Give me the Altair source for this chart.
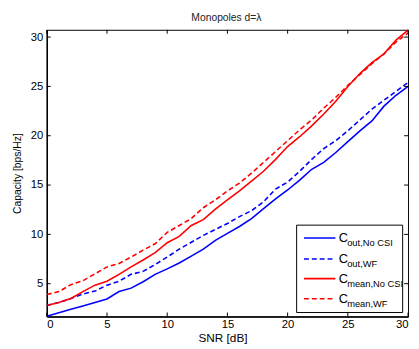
import altair as alt
import pandas as pd

snr = list(range(31))
c_out_nocsi = [1.7, 2.05, 2.4, 2.75, 3.1, 3.45, 4.2, 4.55, 5.2, 5.95, 6.5, 7.1, 7.8, 8.5, 9.4, 10.1,
               10.8, 11.6, 12.6, 13.6, 14.5, 15.5, 16.6, 17.3, 18.3, 19.4, 20.5, 21.5, 23.0, 24.1, 25.0]
c_out_wf = [2.8, 3.1, 3.5, 3.95, 4.25, 4.85, 5.25, 5.95, 6.25, 6.95, 7.7, 8.5, 9.2, 9.9, 10.5, 11.1,
            11.8, 12.4, 13.3, 14.6, 15.3, 16.4, 17.6, 18.7, 19.5, 20.5, 21.6, 22.7, 23.6, 24.5, 25.4]
c_mean_nocsi = [2.8, 3.1, 3.5, 4.2, 4.85, 5.25, 5.95, 6.7, 7.4, 8.15, 9.15, 9.8, 10.9, 11.5, 12.55, 13.5,
                14.4, 15.4, 16.4, 17.6, 18.9, 19.9, 21.0, 22.2, 23.5, 25.0, 26.3, 27.4, 28.3, 29.7, 30.7]
c_mean_wf = [3.9, 4.2, 4.9, 5.3, 6.0, 6.7, 7.05, 7.7, 8.4, 9.05, 10.2, 10.9, 11.6, 12.7, 13.5, 14.4,
             15.2, 16.2, 17.3, 18.4, 19.5, 20.6, 21.6, 22.8, 23.9, 25.1, 26.2, 27.3, 28.3, 29.5, 30.4]

series_names = ["out_nocsi", "out_wf", "mean_nocsi", "mean_wf"]
series_main = ["C", "C", "C", "C"]
series_sub = ["out,No CSI", "out,WF", "mean,No CSI", "mean,WF"]
series_colors = ["#0000FF", "#0000FF", "#FF0000", "#FF0000"]
series_dashed = [False, True, False, True]
x_ticks = [0, 5, 10, 15, 20, 25, 30]
y_ticks = [5, 10, 15, 20, 25, 30]
title_text = "Monopoles d=\u03bb"

W, H = 368, 292
FONT = "Liberation Sans"
Y_DOM = [1.68, 30.74]

rows = []
for name, vals in zip(series_names, [c_out_nocsi, c_out_wf, c_mean_nocsi, c_mean_wf]):
    for s, v in zip(snr, vals):
        rows.append({"snr": s, "cap": v, "series": name})
df = pd.DataFrame(rows)

xs = alt.Scale(domain=[0, 30], nice=False, zero=False)
ys = alt.Scale(domain=Y_DOM, nice=False, zero=False)

layers = []
for name, col, dashed in zip(series_names, series_colors, series_dashed):
    kw = {"strokeDash": [5, 3]} if dashed else {}
    layers.append(
        alt.Chart(df).transform_filter(alt.datum.series == name)
        .mark_line(color=col, strokeWidth=1.6, **kw)
        .encode(
            x=alt.X("snr:Q", scale=xs,
                    axis=alt.Axis(values=x_ticks, title="SNR [dB]", tickSize=0, labelPadding=2,
                                  titlePadding=3, titleX=179, titleFontSize=12,
                                  labelFontSize=11.5, domainWidth=1.5)),
            y=alt.Y("cap:Q", scale=ys,
                    axis=alt.Axis(values=y_ticks, title="Capacity [bps/Hz]", tickSize=0,
                                  labelPadding=4, titlePadding=8, titleFontSize=10.5,
                                  labelFontSize=11.5, domainWidth=1.5)),
        )
    )

xt = pd.DataFrame({"v": x_ticks})
yt = pd.DataFrame({"v": y_ticks})
for y0, y1 in [(H, H - 4), (0, 4)]:
    layers.append(alt.Chart(xt).mark_rule(color="black", strokeWidth=1).encode(
        x=alt.X("v:Q", scale=xs), y=alt.value(y0), y2=alt.value(y1)))
for x0, x1 in [(0, 4), (W, W - 4)]:
    layers.append(alt.Chart(yt).mark_rule(color="black", strokeWidth=1).encode(
        y=alt.Y("v:Q", scale=ys), x=alt.value(x0), x2=alt.value(x1)))

one = pd.DataFrame({"a": [0]})
# legend box
layers.append(alt.Chart(one).mark_rect(fill="white", stroke="black", strokeWidth=1).encode(
    x=alt.value(254.5), x2=alt.value(362.5), y=alt.value(199), y2=alt.value(288)))
entry_y = [212, 233.5, 253.5, 274]
for ey, main, sub, col, dashed in zip(entry_y, series_main, series_sub, series_colors, series_dashed):
    kw = {"strokeDash": [5, 3]} if dashed else {}
    layers.append(alt.Chart(one).mark_rule(color=col, strokeWidth=1.6, **kw).encode(
        x=alt.value(262), x2=alt.value(294), y=alt.value(ey)))
    layers.append(alt.Chart(one).mark_text(text=main, font=FONT, fontSize=13, align="left",
                                           baseline="alphabetic", color="black").encode(
        x=alt.value(297.5), y=alt.value(ey + 4.5)))
    layers.append(alt.Chart(one).mark_text(text=sub, font=FONT, fontSize=9.5, align="left",
                                           baseline="alphabetic", color="black").encode(
        x=alt.value(306), y=alt.value(ey + 8)))

layers.append(alt.Chart(one).mark_text(text=title_text, font=FONT, fontSize=10.5, align="center",
                                       baseline="alphabetic", color="#222222").encode(
    x=alt.value(W / 2 - 1), y=alt.value(-8.5)))

chart = alt.layer(*layers).properties(
    width=W, height=H,
    background="white",
    autosize=alt.AutoSizeParams(type="none"),
    padding={"left": 39.5, "top": 19, "right": 3, "bottom": 32},
).configure_view(stroke="black", strokeWidth=1).configure_axis(
    grid=False, domainColor="black", labelColor="black", titleColor="black",
    labelFont=FONT, titleFont=FONT, titleFontWeight="normal",
)

chart.save("out.html", embed_options={"renderer": "svg", "actions": False})
